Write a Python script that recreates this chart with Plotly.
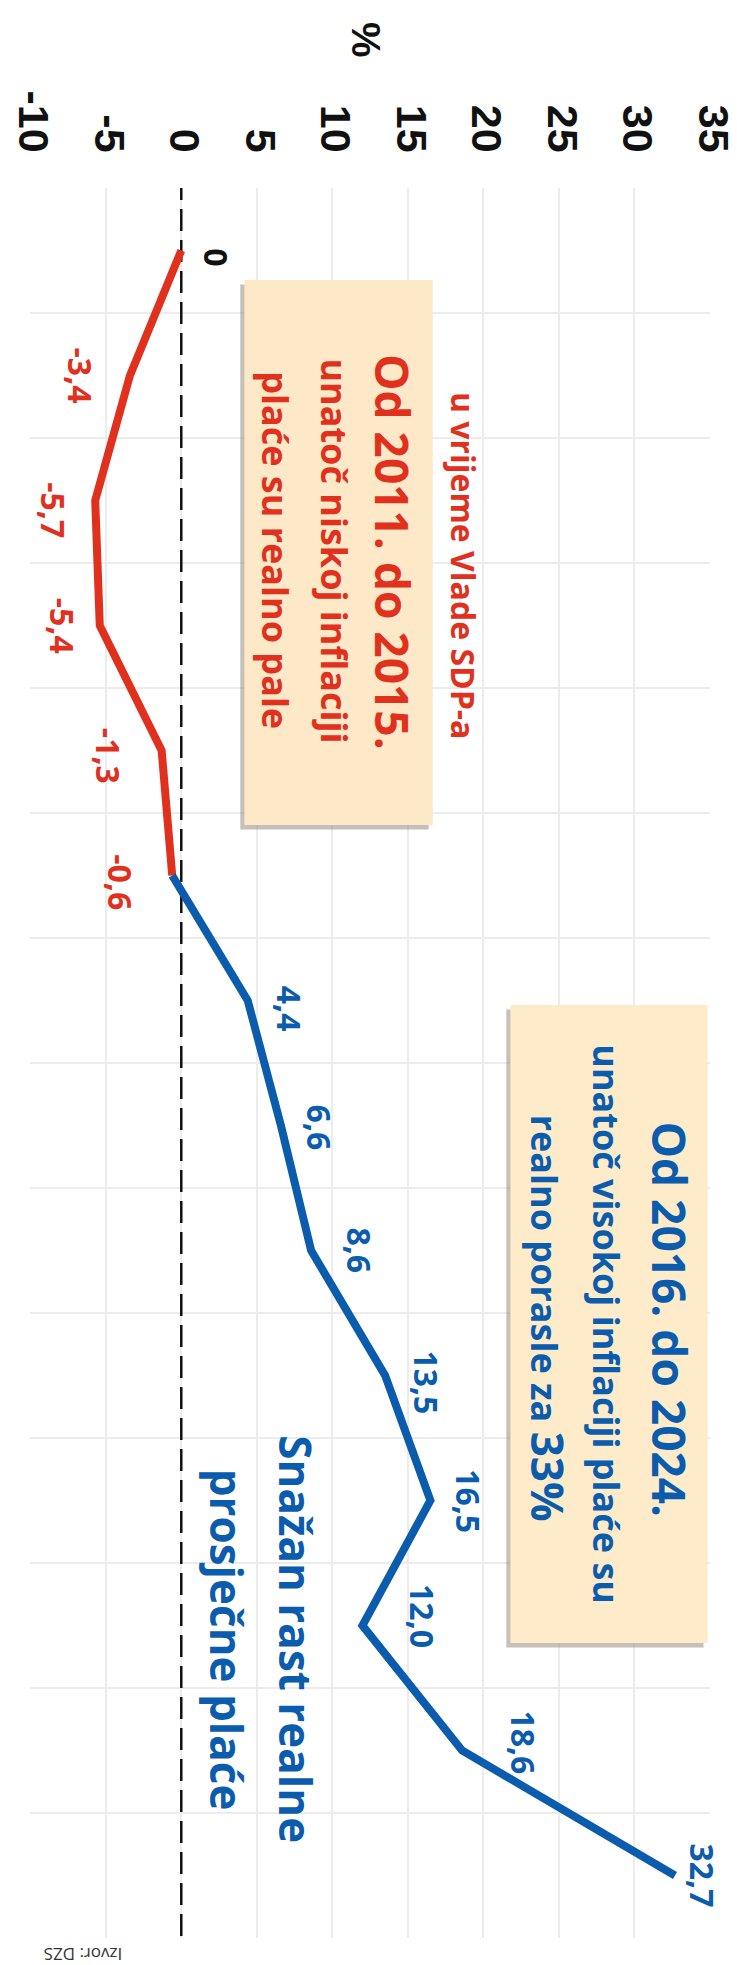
import plotly.graph_objects as go

# ---- data ----
years = list(range(2011, 2025))
values = [0, -3.4, -5.7, -5.4, -1.3, -0.6, 4.4, 6.6, 8.6, 13.5, 16.5, 12.0, 18.6, 32.7]
value_labels = ["0", "-3,4", "-5,7", "-5,4", "-1,3", "-0,6", "4,4", "6,6", "8,6",
                "13,5", "16,5", "12,0", "18,6", "32,7"]
split_year = 2016
x_ticks = [-10, -5, 0, 5, 10, 15, 20, 25, 30, 35]
x_ticktext = ["-10", "-5", "0", "5", "10", "15", "20", "25", "30", "35"]

# ---- styles ----
RED = "#e0311f"
BLUE = "#0b5cad"
BOX = "#fde8c7"
BOX2 = "#fdebca"
FONT = "Open Sans"

# label offsets in pixels (right, down)
label_dx = [35, -49, -42, -37, -53, -52, 42, 39, 48, 41, 38, 60, 61, 28]
label_dy = [7, 0, 10, 0, 5, 7, 8, 2, 0, 7, 1, -9, -8, 0]

split_i = years.index(split_year)
red_x, red_y = values[:split_i + 1], years[:split_i + 1]
blue_x, blue_y = values[split_i:], years[split_i:]

fig = go.Figure()

# zero dashed line
fig.add_trace(go.Scatter(x=[0, 0], y=[2010.42, 2024.5], mode="lines",
                         line=dict(color="#111111", width=2.5, dash="22px,9px"),
                         cliponaxis=False, hoverinfo="skip", showlegend=False))
fig.add_trace(go.Scatter(x=red_x, y=red_y, mode="lines",
                         line=dict(color=RED, width=8), showlegend=False, cliponaxis=False))
fig.add_trace(go.Scatter(x=blue_x, y=blue_y, mode="lines",
                         line=dict(color=BLUE, width=8), showlegend=False, cliponaxis=False))

annotations = []
for i, (v, yr, lab) in enumerate(zip(values, years, value_labels)):
    if v == 0 and yr == years[0]:
        col = "#111111"
    elif yr <= split_year:
        col = RED
    else:
        col = BLUE
    annotations.append(dict(x=v, y=yr, xref="x", yref="y", text=lab, showarrow=False,
                            textangle=90, xanchor="center", yanchor="middle",
                            xshift=label_dx[i], yshift=-label_dy[i],
                            font=dict(family=FONT, size=32, color=col, weight=700)))

def txt(x, y, text, size, color, weight=700, angle=90, yref="y", family=FONT):
    annotations.append(dict(x=x, y=y, xref="x", yref=yref, text=text, showarrow=False,
                            textangle=angle, xanchor="center", yanchor="middle",
                            font=dict(family=family, size=size, color=color, weight=weight)))

# axis title
txt(12.23, 1.0846, "%", 40, "#111111", yref="paper", family="Liberation Sans")

# red box texts
txt(18.70, 2013.52, "u vrijeme Vlade SDP-a", 32, RED)
txt(14.01, 2013.41, "Od 2011. do 2015.", 46, RED)
txt(10.12, 2013.40, "unatoč niskoj inflaciji", 36, RED)
txt(6.23, 2013.40, "plaće su realno pale", 36, RED)

# blue box texts
txt(32.36, 2019.55, "Od 2016. do 2024.", 46, BLUE)
txt(28.20, 2019.59, "unatoč visokoj inflaciji plaće su", 36, BLUE)
txt(24.31, 2019.54, "realno porasle za <span style='font-size:44px'>33%</span>", 36, BLUE)

# free text
txt(7.6, 2022.11, "Snažan rast realne", 44, BLUE)
txt(3.0, 2022.11, "prosječne plaće", 44, BLUE)

# source
txt(-6.5, -0.0095, "Izvor: DZS", 17, "#333333", weight=400, angle=180, yref="paper")

shapes = []
def box(x0, x1, y0, y1, fill):
    shapes.append(dict(type="rect", xref="x", yref="y", x0=x0 - 0.27, x1=x1 - 0.27,
                       y0=y0 + 0.035, y1=y1 + 0.035, line=dict(width=0),
                       fillcolor="rgba(150,140,125,0.55)", layer="above"))
    shapes.append(dict(type="rect", xref="x", yref="y", x0=x0, x1=x1, y0=y0, y1=y1,
                       line=dict(width=0), fillcolor=fill, layer="above"))

box(4.18, 16.66, 2011.236, 2015.596, BOX)
box(21.80, 34.86, 2017.036, 2022.14, BOX2)

fig.update_layout(
    width=737, height=1965,
    margin=dict(l=22, r=35, t=180, b=35),
    paper_bgcolor="white", plot_bgcolor="white",
    showlegend=False,
    annotations=annotations,
    shapes=shapes,
    xaxis=dict(range=[-10.02, 35.02], side="top", tickvals=x_ticks, ticktext=x_ticktext,
               tickangle=90, ticks="", ticklabelstandoff=28, ticklabelshift=3,
               ticklabeloverflow="allow",
               tickfont=dict(family="Liberation Sans", size=43, color="#111111", weight="bold"),
               showgrid=True, gridcolor="#ececec", gridwidth=1.5,
               zeroline=False, showline=False, automargin=False, fixedrange=True),
    yaxis=dict(range=[2024.5, 2010.5], tickvals=[y + 0.5 for y in range(2010, 2025)],
               showticklabels=False, ticks="",
               showgrid=True, gridcolor="#ececec", gridwidth=1.5,
               zeroline=False, showline=False, automargin=False, fixedrange=True),
)

fig.write_html("out.html")
